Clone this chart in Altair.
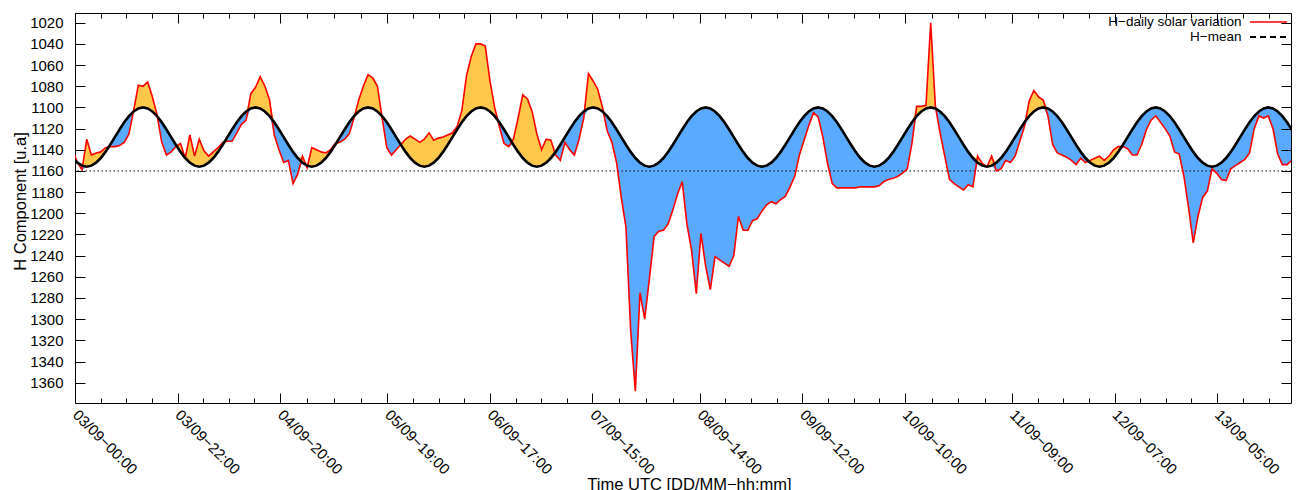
import altair as alt
import pandas as pd

FONT = "Liberation Sans"

# ---------------- data ----------------
TICK_HOURS = [0, 22, 44, 67, 89, 111, 134, 156, 178, 201, 223, 245]
TICK_LABELS = ["03/09−00:00", "03/09−22:00", "04/09−20:00", "05/09−19:00",
               "06/09−17:00", "07/09−15:00", "08/09−14:00", "09/09−12:00",
               "10/09−10:00", "11/09−09:00", "12/09−07:00", "13/09−05:00"]
Y_TICKS = list(range(1020, 1361, 20))

SERIES = ["H−daily solar variation", "H−mean"]
SERIES_COLORS = ["#ff0000", "#000000"]

# samples on a regular time grid (hours from 03/09 00:00)
SAMPLE_START_H = -0.5
SAMPLE_STEP_H = 1.0058

H_VALUES = [
    1140, 1152, 1159, 1130, 1145, 1143, 1142, 1138, 1137, 1137,
    1136, 1133, 1125, 1103, 1079, 1080, 1076, 1090, 1107, 1133,
    1145, 1142, 1137, 1134, 1148, 1126, 1146, 1130, 1141, 1146,
    1142, 1138, 1133, 1132, 1132, 1124, 1116, 1112, 1087, 1081,
    1071, 1080, 1093, 1126, 1140, 1152, 1150, 1172, 1163, 1146,
    1157, 1138, 1140, 1142, 1143, 1140, 1134, 1133, 1130, 1125,
    1110, 1093, 1080, 1069, 1072, 1080, 1110, 1138, 1145, 1140,
    1135, 1130, 1127, 1130, 1133, 1130, 1124, 1131, 1129, 1128,
    1126, 1124, 1118, 1103, 1070, 1052, 1040, 1040, 1042, 1075,
    1100, 1118, 1134, 1137, 1130, 1110, 1088, 1092, 1104, 1125,
    1140, 1130, 1131, 1145, 1150, 1133, 1140, 1145, 1130, 1110,
    1068, 1075, 1083, 1100, 1122, 1133, 1152, 1185, 1213, 1310,
    1368, 1275, 1300, 1262, 1222, 1217, 1216, 1210, 1197, 1182,
    1170, 1210, 1235, 1276, 1219, 1250, 1272, 1241, 1244, 1247,
    1250, 1240, 1203, 1216, 1216, 1207, 1205, 1198, 1192, 1189,
    1191, 1187, 1184, 1175, 1165, 1145, 1131, 1117, 1105, 1109,
    1128, 1153, 1172, 1176, 1176, 1176, 1176, 1176, 1175, 1175,
    1175, 1175, 1174, 1170, 1168, 1167, 1165, 1162, 1158, 1134,
    1099, 1099, 1098, 1020, 1099, 1124, 1146, 1168, 1172, 1175,
    1178, 1173, 1175, 1146, 1153, 1156, 1146, 1160, 1158, 1150,
    1152, 1146, 1132, 1118, 1094, 1084, 1090, 1093, 1108, 1135,
    1143, 1145, 1147, 1150, 1154, 1148, 1152, 1150, 1148, 1146,
    1150, 1146, 1140, 1137, 1137, 1139, 1145, 1145, 1135, 1121,
    1112, 1108, 1114, 1120, 1127, 1142, 1144, 1165, 1195, 1228,
    1203, 1185, 1179, 1158, 1162, 1168, 1169, 1158, 1155, 1152,
    1149, 1143, 1120, 1108, 1110, 1108, 1120, 1144, 1154, 1154,
    1150, 1149,
]

H_MEAN = [
    1147.8, 1152.2, 1155.0, 1156.0, 1155.0, 1152.2, 1147.8, 1142.0, 1135.2, 1128.0, 1120.8, 1114.0,
    1108.2, 1103.8, 1101.0, 1100.0, 1101.0, 1103.8, 1108.2, 1114.0, 1120.8, 1128.0, 1135.2, 1142.0,
    1147.8, 1152.2, 1155.0, 1156.0, 1155.0, 1152.2, 1147.8, 1142.0, 1135.2, 1128.0, 1120.8, 1114.0,
    1108.2, 1103.8, 1101.0, 1100.0, 1101.0, 1103.8, 1108.2, 1114.0, 1120.8, 1128.0, 1135.2, 1142.0,
    1147.8, 1152.2, 1155.0, 1156.0, 1155.0, 1152.2, 1147.8, 1142.0, 1135.2, 1128.0, 1120.8, 1114.0,
    1108.2, 1103.8, 1101.0, 1100.0, 1101.0, 1103.8, 1108.2, 1114.0, 1120.8, 1128.0, 1135.2, 1142.0,
    1147.8, 1152.2, 1155.0, 1156.0, 1155.0, 1152.2, 1147.8, 1142.0, 1135.2, 1128.0, 1120.8, 1114.0,
    1108.2, 1103.8, 1101.0, 1100.0, 1101.0, 1103.8, 1108.2, 1114.0, 1120.8, 1128.0, 1135.2, 1142.0,
    1147.8, 1152.2, 1155.0, 1156.0, 1155.0, 1152.2, 1147.8, 1142.0, 1135.2, 1128.0, 1120.8, 1114.0,
    1108.2, 1103.8, 1101.0, 1100.0, 1101.0, 1103.8, 1108.2, 1114.0, 1120.8, 1128.0, 1135.2, 1142.0,
    1147.8, 1152.2, 1155.0, 1156.0, 1155.0, 1152.2, 1147.8, 1142.0, 1135.2, 1128.0, 1120.8, 1114.0,
    1108.2, 1103.8, 1101.0, 1100.0, 1101.0, 1103.8, 1108.2, 1114.0, 1120.8, 1128.0, 1135.2, 1142.0,
    1147.8, 1152.2, 1155.0, 1156.0, 1155.0, 1152.2, 1147.8, 1142.0, 1135.2, 1128.0, 1120.8, 1114.0,
    1108.2, 1103.8, 1101.0, 1100.0, 1101.0, 1103.8, 1108.2, 1114.0, 1120.8, 1128.0, 1135.2, 1142.0,
    1147.8, 1152.2, 1155.0, 1156.0, 1155.0, 1152.2, 1147.8, 1142.0, 1135.2, 1128.0, 1120.8, 1114.0,
    1108.2, 1103.8, 1101.0, 1100.0, 1101.0, 1103.8, 1108.2, 1114.0, 1120.8, 1128.0, 1135.2, 1142.0,
    1147.8, 1152.2, 1155.0, 1156.0, 1155.0, 1152.2, 1147.8, 1142.0, 1135.2, 1128.0, 1120.8, 1114.0,
    1108.2, 1103.8, 1101.0, 1100.0, 1101.0, 1103.8, 1108.2, 1114.0, 1120.8, 1128.0, 1135.2, 1142.0,
    1147.8, 1152.2, 1155.0, 1156.0, 1155.0, 1152.2, 1147.8, 1142.0, 1135.2, 1128.0, 1120.8, 1114.0,
    1108.2, 1103.8, 1101.0, 1100.0, 1101.0, 1103.8, 1108.2, 1114.0, 1120.8, 1128.0, 1135.2, 1142.0,
    1147.8, 1152.2, 1155.0, 1156.0, 1155.0, 1152.2, 1147.8, 1142.0, 1135.2, 1128.0, 1120.8, 1114.0,
    1108.2, 1103.8, 1101.0, 1100.0, 1101.0, 1103.8, 1108.2, 1114.0, 1120.8, 1128.0,
]

QUIET_LEVEL = [1160]

X_DOMAIN = [0, 260.85]
Y_DOMAIN = [1010.8, 1379.2]

# ---------------- layout / style ----------------
PLOT_W, PLOT_H = 1216, 390
PAD = {"left": 67, "top": 5, "right": 1, "bottom": 90}
YELLOW = "#FFC84A"
BLUE = "#5AAAFF"

# ---------------- tables ----------------
n = len(H_VALUES)
t = [SAMPLE_START_H + i * SAMPLE_STEP_H for i in range(n)]
df = pd.DataFrame({"t": t, "H": H_VALUES, "M": H_MEAN})
df["lo"] = df[["H", "M"]].min(axis=1)
df["hi"] = df[["H", "M"]].max(axis=1)

minor = []
for a, b in zip(TICK_HOURS[:-1], TICK_HOURS[1:]):
    minor += [a + (b - a) * j / 4 for j in (1, 2, 3)]
quarter = (TICK_HOURS[-1] - TICK_HOURS[0]) / (len(TICK_HOURS) - 1) / 4
minor += [TICK_HOURS[-1] + quarter * j for j in (1, 2, 3)]


def xs():
    return alt.Scale(domain=X_DOMAIN, nice=False, zero=False)


def ys():
    return alt.Scale(domain=Y_DOMAIN, reverse=True, nice=False, zero=False)


label_expr = ("[" + ",".join(f"'{s}'" for s in TICK_LABELS) + "][indexof(["
              + ",".join(str(h) for h in TICK_HOURS) + "], datum.value)]")

x_bottom = alt.Axis(orient="bottom", values=TICK_HOURS, labelExpr=label_expr,
                    offset=-10, tickSize=10, labelAngle=45, labelAlign="left",
                    labelBaseline="middle", labelPadding=9, labelFontSize=15,
                    labelOverlap=False, labelFlush=False,
                    title="Time UTC [DD/MM−hh:mm]", titleFontSize=16.5,
                    titleX=614, titleY=96, titleBaseline="alphabetic",
                    titleAlign="center", zindex=1)
x_bottom_minor = alt.Axis(orient="bottom", values=minor, offset=-5, tickSize=5,
                          labels=False, title=None, zindex=1)
x_top = alt.Axis(orient="top", values=TICK_HOURS, offset=-10, tickSize=10,
                 labels=False, title=None, zindex=1)
x_top_minor = alt.Axis(orient="top", values=minor, offset=-5, tickSize=5,
                       labels=False, title=None, zindex=1)
y_left = alt.Axis(orient="left", values=Y_TICKS, format="d", offset=-10,
                  tickSize=10, labelPadding=12, labelFontSize=15,
                  title="H Component [u.a]", titleFontSize=16.5, titleX=-60,
                  titleY=188, titleBaseline="alphabetic", titleAlign="center",
                  titleAngle=270, zindex=1)
y_right = alt.Axis(orient="right", values=Y_TICKS, offset=-10, tickSize=10,
                   labels=False, title=None, zindex=1)

base = alt.Chart(df)

yellow = base.mark_area(color=YELLOW, clip=True).encode(
    x=alt.X("t:Q", scale=xs(), axis=x_bottom),
    y=alt.Y("lo:Q", scale=ys(), axis=y_left),
    y2="M:Q",
)
blue = base.mark_area(color=BLUE, clip=True).encode(
    x=alt.X("t:Q", scale=xs(), axis=x_top),
    y=alt.Y("M:Q", scale=ys(), axis=y_right),
    y2="hi:Q",
)
minor_b = base.mark_point(opacity=0).encode(
    x=alt.X("t:Q", scale=xs(), axis=x_bottom_minor))
minor_t = base.mark_point(opacity=0).encode(
    x=alt.X("t:Q", scale=xs(), axis=x_top_minor))

quiet = alt.Chart(pd.DataFrame({"q": QUIET_LEVEL})).mark_rule(
    color="black", strokeWidth=1, strokeDash=[1.5, 2.5]).encode(
    y=alt.Y("q:Q", scale=ys(), axis=None))

red = base.mark_line(color=SERIES_COLORS[0], strokeWidth=1.6, clip=True).encode(
    x=alt.X("t:Q", scale=xs(), axis=None),
    y=alt.Y("H:Q", scale=ys(), axis=None),
)
mean_line = base.mark_line(color=SERIES_COLORS[1], strokeWidth=2.6, clip=True).encode(
    x=alt.X("t:Q", scale=xs(), axis=None),
    y=alt.Y("M:Q", scale=ys(), axis=None),
)

# key (top right, labels left of the line samples)
KEY_DASH = [[1, 0], [6, 4]]
KEY_WIDTH = [1.5, 2.0]
KEY_ROW_Y = [9.0, 24.0]
key_layers = []
for k, name in enumerate(SERIES):
    kdf = pd.DataFrame({"label": [name]})
    key_layers.append(
        alt.Chart(kdf).mark_text(align="right", baseline="middle", font=FONT,
                                 fontSize=13.5, color="black").encode(
            x=alt.value(1166.5), y=alt.value(KEY_ROW_Y[k]), text="label:N"))
    key_layers.append(
        alt.Chart(kdf).mark_rule(stroke=SERIES_COLORS[k], strokeWidth=KEY_WIDTH[k],
                                 strokeDash=KEY_DASH[k]).encode(
            x=alt.value(1175), x2=alt.value(1212), y=alt.value(KEY_ROW_Y[k])))

chart = (
    alt.layer(yellow, blue, minor_b, minor_t, quiet, red, mean_line, *key_layers)
    .resolve_scale(x="independent", y="independent")
    .properties(width=PLOT_W, height=PLOT_H,
                autosize=alt.AutoSizeParams(type="none"), padding=PAD)
    .configure_view(stroke="black", strokeWidth=1)
    .configure_axis(domain=False, grid=False, tickColor="black", tickWidth=1,
                    labelColor="black", titleColor="black", labelFont=FONT,
                    titleFont=FONT, titleFontWeight="normal")
)

chart.save("out.html", embed_options={"renderer": "svg", "actions": False})
